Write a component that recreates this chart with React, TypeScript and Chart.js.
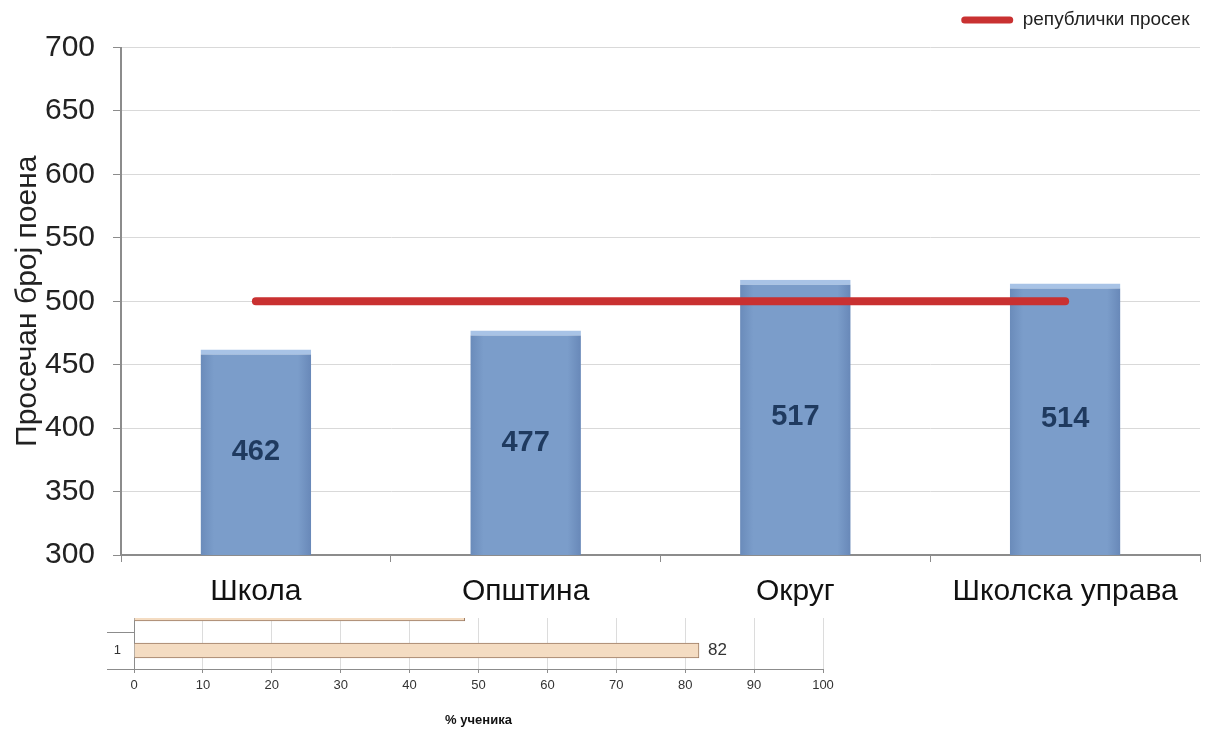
import React, { useEffect, useRef } from "react";
import { Chart, registerables } from "chart.js";

Chart.register(...registerables);

const categories = ["Школа", "Општина", "Округ", "Школска управа"];
const averageScores = [462, 477, 517, 514];
const nationalAverage = [500, 500, 500, 500];
const nationalLabel = "републички просек";
const yTitle = "Просечан број поена";

const studentCategories = ["", "1"];
const studentPercent = [48, 82];
const studentAxisTitle = "% ученика";

const FONT = "'Liberation Sans', Arial, sans-serif";
const BAR_PCT = 0.41;

const barLabelPlugin = {
  id: "barLabels",
  afterDatasetsDraw(chart: any) {
    const meta = chart.getDatasetMeta(0);
    const ctx = chart.ctx;
    const bottom = chart.chartArea.bottom;
    ctx.save();
    ctx.font = "bold 29px " + FONT;
    ctx.fillStyle = "#1f3a5f";
    ctx.textAlign = "center";
    ctx.textBaseline = "middle";
    meta.data.forEach((el: any, i: number) => {
      const v = chart.data.datasets[0].data[i];
      const base = Math.min(el.base, bottom);
      ctx.fillText(String(v), el.x, (el.y + base) / 2);
    });
    ctx.restore();
  },
};

const hBarLabelPlugin = {
  id: "hBarLabels",
  afterDatasetsDraw(chart: any) {
    const meta = chart.getDatasetMeta(0);
    const ctx = chart.ctx;
    ctx.save();
    ctx.font = "17px " + FONT;
    ctx.fillStyle = "#333";
    ctx.textAlign = "left";
    ctx.textBaseline = "middle";
    meta.data.forEach((el: any, i: number) => {
      const v = chart.data.datasets[0].data[i];
      ctx.fillText(String(v), el.x + 9, el.y);
    });
    ctx.restore();
  },
};

function barFill(c: any) {
  const chart = c.chart;
  const xs = chart.scales && chart.scales.x;
  if (!xs || c.dataIndex === undefined || !chart.chartArea) return "#7b9dca";
  const cx = xs.getPixelForValue(c.dataIndex);
  const w = (xs.width / categories.length) * BAR_PCT;
  if (!isFinite(cx) || !isFinite(w) || w <= 0) return "#7b9dca";
  const g = chart.ctx.createLinearGradient(cx - w / 2, 0, cx + w / 2, 0);
  g.addColorStop(0, "#6a8bba");
  g.addColorStop(0.12, "#7b9dca");
  g.addColorStop(0.88, "#7b9dca");
  g.addColorStop(1, "#6888b8");
  return g;
}

export default function App() {
  const mainRef = useRef<HTMLCanvasElement>(null);
  const subRef = useRef<HTMLCanvasElement>(null);

  useEffect(() => {
    const main = new Chart(mainRef.current!, {
      type: "bar",
      data: {
        labels: categories,
        datasets: [
          {
            type: "bar",
            label: "просек",
            data: averageScores,
            backgroundColor: barFill,
            borderColor: "#a8c3e6",
            borderWidth: { top: 5, left: 0, right: 0, bottom: 0 },
            borderSkipped: "bottom",
            barPercentage: BAR_PCT,
            categoryPercentage: 1,
            order: 2,
          },
          {
            type: "line",
            label: nationalLabel,
            data: nationalAverage,
            borderColor: "#c93131",
            backgroundColor: "#c93131",
            borderWidth: 8,
            borderCapStyle: "round",
            pointRadius: 0,
            fill: false,
            order: 1,
          },
        ] as any,
      },
      options: {
        animation: false,
        responsive: false,
        devicePixelRatio: 1,
        layout: { padding: { left: 0, right: 6, top: 0, bottom: 0 } },
        plugins: {
          tooltip: { enabled: false },
          legend: {
            position: "top",
            align: "end",
            labels: {
              font: { family: FONT, size: 19 },
              color: "#222",
              boxWidth: 52,
              boxHeight: 7,
              padding: 10.5,
              useBorderRadius: true,
              borderRadius: 3.5,
              filter: (item: any) => item.datasetIndex === 1,
              generateLabels: (chart: any) =>
                Chart.defaults.plugins.legend.labels
                  .generateLabels(chart)
                  .map((l: any) => ({ ...l, lineWidth: 0, fillStyle: "#c93131" })),
            },
          },
        },
        scales: {
          x: {
            grid: {
              display: true,
              drawOnChartArea: false,
              drawTicks: true,
              tickLength: 7,
              color: "#8c8c8c",
              tickColor: "#8c8c8c",
            },
            border: { color: "#8c8c8c", width: 2 },
            ticks: {
              font: { family: FONT, size: 30 },
              color: "#111",
              padding: 12,
            },
            afterFit: (s: any) => {
              s.height = 63;
            },
          },
          xTop: {
            type: "category",
            position: "top",
            display: true,
            grid: { display: false },
            border: { display: false },
            ticks: { display: false },
            afterFit: (s: any) => {
              s.height = 8;
            },
          },
          y: {
            min: 300,
            max: 700,
            ticks: {
              stepSize: 50,
              font: { family: FONT, size: 30 },
              color: "#222",
              padding: 18,
            },
            grid: {
              color: "#d9d9d9",
              tickColor: "#8c8c8c",
              tickLength: 8,
            },
            border: { color: "#8c8c8c", width: 2 },
            title: {
              display: true,
              text: yTitle,
              font: { family: FONT, size: 30 },
              color: "#222",
              padding: { top: 10, bottom: 0 },
            },
            afterFit: (s: any) => {
              s.width = 121;
            },
          },
        } as any,
      },
      plugins: [barLabelPlugin],
    });

    const sub = new Chart(subRef.current!, {
      type: "bar",
      data: {
        labels: studentCategories,
        datasets: [
          {
            label: "ученици",
            data: studentPercent,
            backgroundColor: "#f4dcc2",
            borderColor: "#9c7b63",
            borderWidth: 1,
            barThickness: 15,
          },
        ],
      },
      options: {
        indexAxis: "y",
        animation: false,
        responsive: false,
        devicePixelRatio: 1,
        layout: { padding: { left: 0, right: 383, top: 5, bottom: 0 } },
        plugins: { legend: { display: false }, tooltip: { enabled: false } },
        scales: {
          x: {
            min: 0,
            max: 100,
            ticks: {
              stepSize: 10,
              font: { family: FONT, size: 13 },
              color: "#333",
              padding: 5,
            },
            grid: { color: "#dcdcdc", tickColor: "#8c8c8c", tickLength: 4 },
            border: { color: "#8c8c8c", width: 1 },
            title: {
              display: true,
              text: studentAxisTitle,
              font: { family: FONT, size: 13, weight: "bold" },
              color: "#111",
              padding: { top: 0, bottom: 9 },
            },
            afterFit: (s: any) => {
              s.height = 68;
            },
          },
          y: {
            grid: {
              drawOnChartArea: false,
              color: "#8c8c8c",
              tickLength: 27,
            },
            border: { color: "#8c8c8c", width: 1 },
            ticks: {
              font: { family: FONT, size: 13 },
              color: "#333",
              padding: -14,
            },
            afterFit: (s: any) => {
              s.width = 134;
            },
          },
        },
      },
      plugins: [hBarLabelPlugin],
    });

    return () => {
      main.destroy();
      sub.destroy();
    };
  }, []);

  return (
    <div style={{ position: "fixed", left: 0, top: 0, width: 1206, height: 737, background: "#fff" }}>
      <div style={{ position: "absolute", left: 0, top: 590, width: 1206, height: 147, zIndex: 1 }}>
        <canvas ref={subRef} width={1206} height={147} style={{ display: "block" }} />
      </div>
      <div style={{ position: "absolute", left: 0, top: 0, width: 1206, height: 618, zIndex: 2, background: "#fff" }}>
        <canvas ref={mainRef} width={1206} height={618} style={{ display: "block" }} />
      </div>
    </div>
  );
}
